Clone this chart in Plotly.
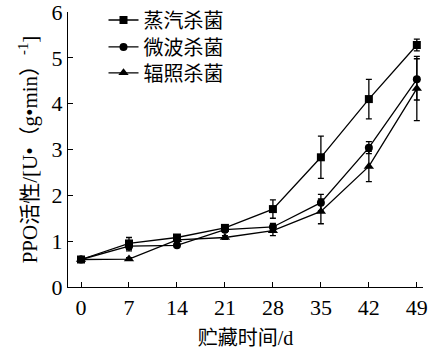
import plotly.graph_objects as go

days = [0, 7, 14, 21, 28, 35, 42, 49]
names = ["蒸汽杀菌", "微波杀菌", "辐照杀菌"]
steam = [0.60, 0.95, 1.08, 1.29, 1.70, 2.83, 4.10, 5.28]
steam_err = [0.04, 0.13, 0.05, 0.05, 0.20, 0.46, 0.43, 0.13]
micro = [0.60, 0.89, 0.91, 1.25, 1.31, 1.84, 3.04, 4.53]
micro_err = [0.04, 0.10, 0.04, 0.05, 0.08, 0.18, 0.13, 0.45]
irr = [0.60, 0.61, 1.03, 1.08, 1.23, 1.65, 2.63, 4.33]
irr_err = [0.03, 0.03, 0.04, 0.04, 0.11, 0.27, 0.33, 0.70]
y_ticks = [0, 1, 2, 3, 4, 5, 6]

FONT = "Liberation Serif, Times New Roman, Noto Sans CJK SC"
CJK = "Noto Sans CJK SC"

series = [(steam, steam_err, "square", 8), (micro, micro_err, "circle", 8), (irr, irr_err, "triangle-up", 9)]
legend_ids = ["legend", "legend2", "legend3"]

fig = go.Figure()
for name, (vals, errs, sym, sz), lg in zip(names, series, legend_ids):
    fig.add_trace(go.Scatter(
        x=days, y=vals, name=name, mode="lines+markers", legend=lg,
        line=dict(color="black", width=1.3),
        marker=dict(symbol=sym, size=sz, color="black"),
        error_y=dict(type="data", array=errs, visible=True, color="black", thickness=1.3, width=3),
    ))

def leg(y):
    return dict(x=0.1, y=y, xanchor="left", yanchor="middle",
                font=dict(family=CJK, size=20, color="black"),
                bgcolor="rgba(0,0,0,0)", itemwidth=30)

fig.update_layout(
    width=429, height=361,
    margin=dict(l=68, r=6, t=12, b=74, autoexpand=False),
    paper_bgcolor="white", plot_bgcolor="white",
    font=dict(family=FONT, color="black", size=21),
    showlegend=True,
    legend=leg(0.971), legend2=leg(0.873), legend3=leg(0.779),
    xaxis=dict(range=[-1.9, 49.9], tickvals=days, ticks="inside", ticklen=5,
               tickwidth=1.3, tickcolor="black", showline=True, linecolor="black",
               linewidth=1.3, showgrid=False, zeroline=False, automargin=False,
               tickfont=dict(size=22), ticklabeloverflow="allow",
               title=dict(text="贮藏时间/d", font=dict(family=FONT, size=20), standoff=12)),
    yaxis=dict(range=[0, 6], tickvals=y_ticks, ticks="inside", ticklen=5,
               tickwidth=1.3, tickcolor="black", showline=True, linecolor="black",
               linewidth=1.3, showgrid=False, zeroline=False, automargin=False,
               tickfont=dict(size=22), ticklabeloverflow="allow",
               title=dict(text="PPO活性/[U•（g•min）<sup>-1</sup>]", font=dict(family=FONT, size=21), standoff=8)),
)

fig.write_html("out.html", config={"displayModeBar": False},
               post_script="document.body.style.margin='0';document.body.style.padding='0';")
